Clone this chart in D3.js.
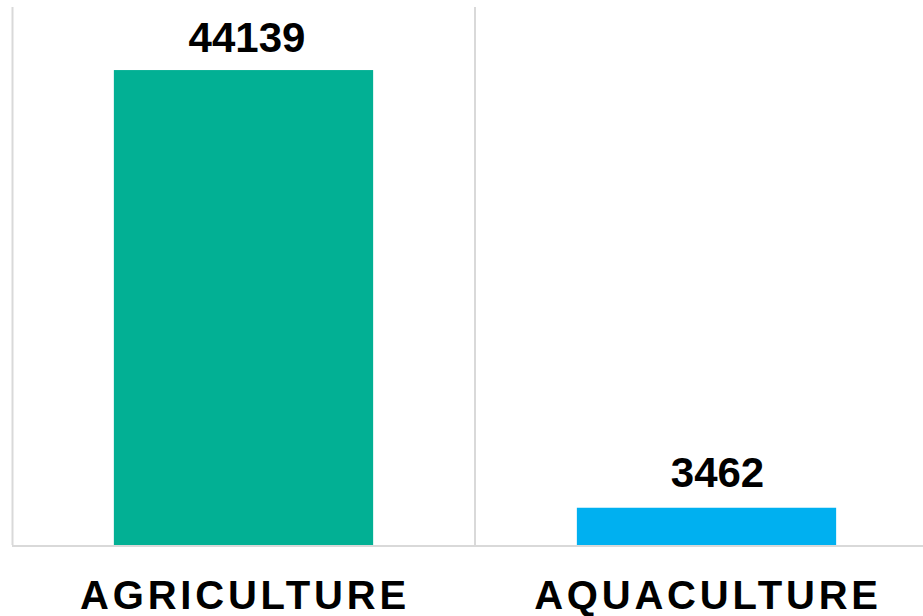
<!DOCTYPE html>
<html><head><meta charset="utf-8">
<script src="https://cdn.jsdelivr.net/npm/d3@7"></script>
<style>html,body{margin:0;padding:0;background:#fff;}</style>
</head><body>
<svg id="chart" width="923" height="616"></svg>
<script>
const categories = ["AGRICULTURE", "AQUACULTURE"];
const values = [44139, 3462];
const colors = ["#02B094", "#00B0F0"];

const W = 923, H = 616;
const svg = d3.select("#chart");
const x = d3.scaleBand().domain(categories).range([12, 938]).paddingInner(0.44).paddingOuter(0.22);
const y = d3.scaleLinear().domain([0, 50000]).range([545, 7]);

// label nudges (style only)
const labelDx = [3.5, 11];
const labelDy = [18, 21];

const gridColor = "#d9d9d9";
svg.append("line").attr("x1", 12.5).attr("x2", 12.5).attr("y1", y(50000)).attr("y2", y(0))
  .attr("stroke", gridColor).attr("stroke-width", 2);
const step = x.step();
svg.append("line").attr("x1", 12 + step).attr("x2", 12 + step).attr("y1", y(50000)).attr("y2", y(0))
  .attr("stroke", gridColor).attr("stroke-width", 2);

svg.selectAll("rect.bar").data(values).join("rect").attr("class", "bar")
  .attr("x", (d, i) => x(categories[i]))
  .attr("width", x.bandwidth())
  .attr("y", d => y(d))
  .attr("height", d => y(0) - y(d))
  .attr("fill", (d, i) => colors[i]);

svg.append("line").attr("x1", 12).attr("x2", W).attr("y1", y(0) + 1).attr("y2", y(0) + 1)
  .attr("stroke", gridColor).attr("stroke-width", 2);

svg.selectAll("text.val").data(values).join("text").attr("class", "val")
  .attr("x", (d, i) => x(categories[i]) + x.bandwidth() / 2 + labelDx[i])
  .attr("y", (d, i) => y(d) - labelDy[i])
  .attr("text-anchor", "middle")
  .attr("font-family", "Liberation Sans, Arial, sans-serif")
  .attr("font-weight", "bold").attr("font-size", 42).attr("fill", "#000")
  .text(d => d);

svg.selectAll("text.cat").data(categories).join("text").attr("class", "cat")
  .attr("x", d => x(d) + x.bandwidth() / 2 + 1.5)
  .attr("y", 609)
  .attr("text-anchor", "middle")
  .attr("font-family", "Liberation Sans, Arial, sans-serif")
  .attr("font-weight", "bold").attr("font-size", 40).attr("letter-spacing", 3.8).attr("fill", "#000")
  .text(d => d);
</script>
</body></html>
